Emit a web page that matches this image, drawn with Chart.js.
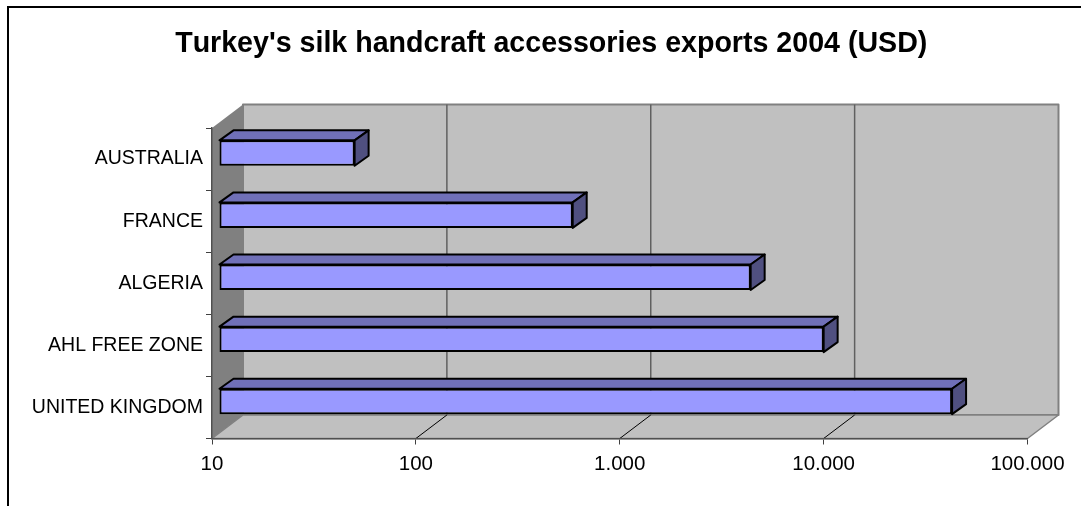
<!DOCTYPE html>
<html>
<head>
<meta charset="utf-8">
<title>Turkey silk exports</title>
<script src="https://cdn.jsdelivr.net/npm/chart.js@4"></script>
<style>
    html, body { margin: 0; padding: 0; background: #fff; }
    canvas { display: block; }
</style>
</head>
<body>
<canvas id="exportsChart" width="1081" height="506"></canvas>
<script>
const chartTitle = "Turkey's silk handcraft accessories exports 2004 (USD)";
const categories = ['AUSTRALIA', 'FRANCE', 'ALGERIA', 'AHL FREE ZONE', 'UNITED KINGDOM'];
const exportValues = [46, 540, 4030, 9190, 39200];
const tickValues = [10, 100, 1000, 10000, 100000];
const tickLabels = ['10', '100', '1.000', '10.000', '100.000'];

// depth of the fake 3D box, and of the bars inside it
const wallDepth = { x: 31, y: -23.5 };
const barOffset = { x: 7.5, y: -6 };
const barDepth = { x: 14, y: -10 };

function fillPoly(ctx, points, fill, stroke, lineWidth) {
    ctx.beginPath();
    points.forEach((p, i) => (i ? ctx.lineTo(p[0], p[1]) : ctx.moveTo(p[0], p[1])));
    ctx.closePath();
    ctx.fillStyle = fill;
    ctx.fill();
    if (stroke) {
        ctx.strokeStyle = stroke;
        ctx.lineWidth = lineWidth;
        ctx.lineJoin = 'round';
        ctx.stroke();
    }
}

const boxPlugin = {
    id: 'box3d',
    afterLayout(chart) {
        // title is centred on the frame, not on the plot
        chart.titleBlock.left += 75;
    },
    beforeDraw(chart) {
        const { ctx, chartArea: a, scales } = chart;
        const dx = wallDepth.x, dy = wallDepth.y;
        ctx.fontKerning = 'none';
        ctx.save();

        // outer frame, only left and top are visible
        ctx.strokeStyle = '#000';
        ctx.lineWidth = 2;
        ctx.beginPath();
        ctx.moveTo(8, 506);
        ctx.lineTo(8, 7);
        ctx.lineTo(1081, 7);
        ctx.stroke();

        fillPoly(ctx, [[a.left, a.top], [a.left + dx, a.top + dy], [a.left + dx, a.bottom + dy], [a.left, a.bottom]], '#808080');
        fillPoly(ctx, [[a.left + dx, a.top + dy], [a.right + dx, a.top + dy], [a.right + dx, a.bottom + dy], [a.left + dx, a.bottom + dy]], '#C0C0C0', '#808080', 2);
        fillPoly(ctx, [[a.left, a.bottom], [a.left + dx, a.bottom + dy], [a.right + dx, a.bottom + dy], [a.right, a.bottom]], '#C0C0C0', '#808080', 1.5);

        // gridlines: across the floor, then up the back wall
        tickValues.slice(1, -1).forEach(v => {
            const x = scales.x.getPixelForValue(v);
            ctx.lineWidth = 1;
            ctx.strokeStyle = '#000';
            ctx.beginPath();
            ctx.moveTo(x, a.bottom);
            ctx.lineTo(x + dx, a.bottom + dy);
            ctx.stroke();
            ctx.lineWidth = 1.5;
            ctx.strokeStyle = '#606060';
            ctx.beginPath();
            ctx.moveTo(x + dx, a.bottom + dy);
            ctx.lineTo(x + dx, a.top + dy);
            ctx.stroke();
        });
        ctx.restore();
    },
    beforeDatasetsDraw(chart) {
        chart.ctx.save();
        chart.ctx.translate(barOffset.x, barOffset.y);
    },
    afterDatasetsDraw(chart) {
        const ctx = chart.ctx;
        chart.getDatasetMeta(0).data.forEach(bar => {
            const { x, y, base, height } = bar.getProps(['x', 'y', 'base', 'height'], true);
            const top = y - height / 2, bottom = y + height / 2;
            const dx = barDepth.x, dy = barDepth.y;
            fillPoly(ctx, [[base, top], [base + dx, top + dy], [x + dx, top + dy], [x, top]], '#7070B8', '#000', 2);
            fillPoly(ctx, [[x, top], [x + dx, top + dy], [x + dx, bottom + dy], [x, bottom]], '#505080', '#000', 2);
        });
        ctx.restore();
    }
};

document.addEventListener('DOMContentLoaded', function () {
    new Chart(document.getElementById('exportsChart'), {
        type: 'bar',
        data: {
            labels: categories,
            datasets: [{
                data: exportValues,
                backgroundColor: '#9999FF',
                borderColor: '#000',
                borderWidth: 2,
                borderSkipped: false,
                barPercentage: 0.41,
                categoryPercentage: 1,
                clip: false
            }]
        },
        options: {
            indexAxis: 'y',
            responsive: false,
            animation: false,
            devicePixelRatio: 1,
            layout: { padding: { left: 0, right: 53.5, top: 0, bottom: 0 } },
            scales: {
                x: {
                    type: 'logarithmic',
                    min: 10,
                    max: 100000,
                    afterBuildTicks: scale => {
                        scale.ticks = tickValues.map(v => ({ value: v, major: true }));
                    },
                    afterFit: scale => { scale.height = 67.5; },
                    ticks: {
                        autoSkip: false,
                        maxRotation: 0,
                        padding: 8,
                        color: '#000',
                        font: { family: 'Liberation Sans', size: 20.5 },
                        callback: (value, i) => tickLabels[i]
                    },
                    grid: { drawOnChartArea: false, drawTicks: true, tickLength: 6, color: '#404040' },
                    border: { color: '#505050', width: 1.5 }
                },
                y: {
                    afterFit: scale => { scale.width = 212; },
                    ticks: {
                        autoSkip: false,
                        padding: 3,
                        color: '#000',
                        font: { family: 'Liberation Sans', size: 19.5 }
                    },
                    grid: { drawOnChartArea: false, drawTicks: true, tickLength: 6, color: '#404040' },
                    border: { color: '#505050', width: 1.5 }
                }
            },
            plugins: {
                legend: { display: false },
                tooltip: { enabled: false },
                title: {
                    display: true,
                    text: chartTitle,
                    color: '#000',
                    font: { family: 'Liberation Sans', size: 28.6, weight: 'bold' },
                    padding: { top: 26.5, bottom: 67.2 }
                }
            }
        },
        plugins: [boxPlugin]
    });
});
</script>
</body>
</html>
